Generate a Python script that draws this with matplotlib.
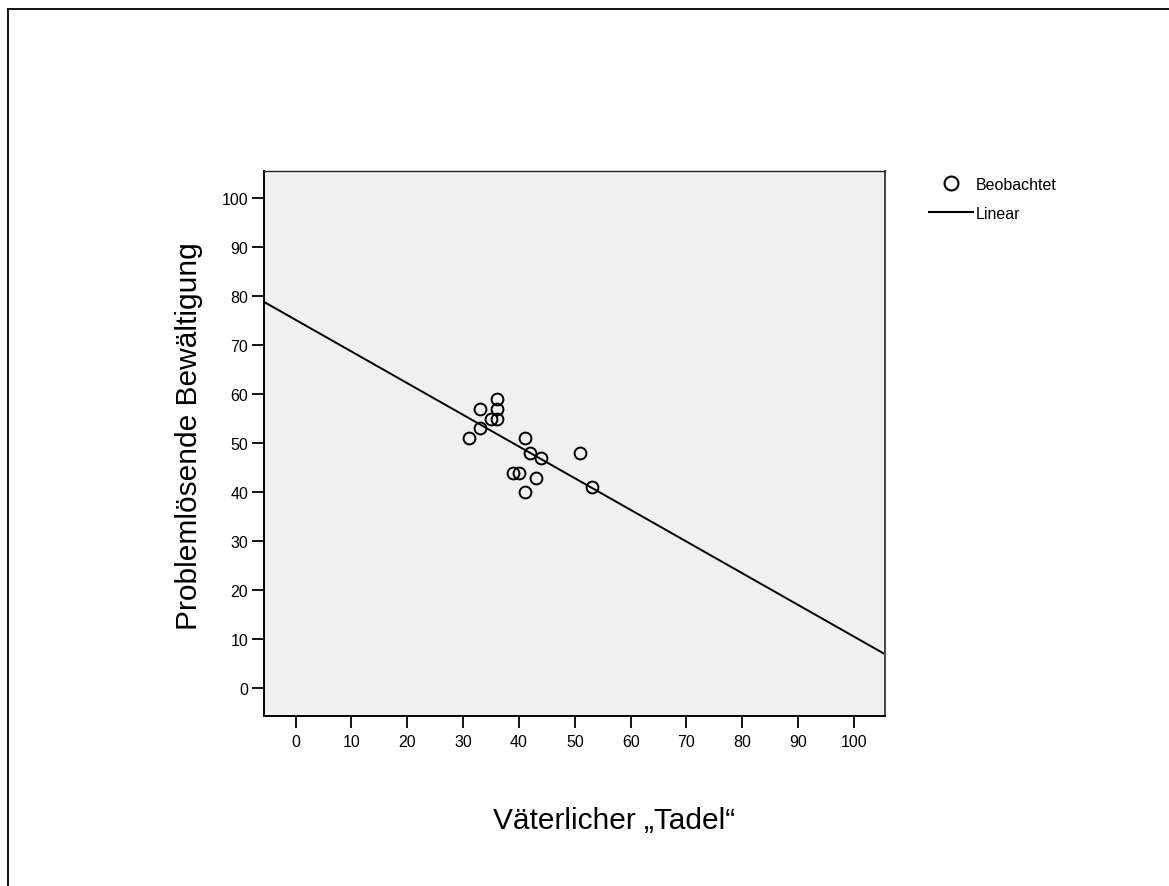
import numpy as np
import matplotlib
matplotlib.use("Agg")
import matplotlib.pyplot as plt
from matplotlib.lines import Line2D

plt.rcParams['font.family'] = ['Liberation Sans', 'DejaVu Sans']

tadel    = [36, 33, 36, 35, 36, 33, 31, 41, 42, 44, 51, 39, 40, 43, 41, 53]
bewaelt  = [59, 57, 57, 55, 55, 53, 51, 51, 48, 47, 48, 44, 44, 43, 40, 41]
ticks    = list(range(0, 101, 10))
xlabel   = "Väterlicher \u201eTadel\u201c"
ylabel   = "Problemlösende Bewältigung"
lim      = (-5.6, 105.6)

W, H = 1169, 887
fig = plt.figure(figsize=(W / 100, H / 100), dpi=100)

# axes box in pixels: left 264, right 885, top 172, bottom 717
ax = fig.add_axes([264.3 / W, 1 - 716.7 / H, 621 / W, 545 / H])
ax.set_facecolor('#f0f0f0')

ax.plot(tadel, bewaelt, 'o', ms=8.5, mfc='none', mec='black', mew=1.4, zorder=3)

# linear fit
k, d = np.polyfit(tadel, bewaelt, 1)
xs = np.array(lim)
ax.plot(xs, k * xs + d, '-', color='black', lw=1.4, zorder=2)

ax.set_xlim(lim)
ax.set_ylim(lim)
ax.set_xticks(ticks)
ax.set_yticks(ticks)
ax.tick_params(direction='out', length=8.5, width=1.3, labelsize=11.5, pad=3, colors='black')
ax.tick_params(axis='x', pad=5)
for s in ['left', 'bottom']:
    ax.spines[s].set_linewidth(1.4)
    ax.spines[s].set_color('black')
ax.spines['top'].set_linewidth(1.0)
ax.spines['top'].set_color('#222222')
ax.spines['right'].set_linewidth(1.4)
ax.spines['right'].set_color('#444444')

# axis titles placed freely, like the original
fig.text(614 / W, 1 - 821 / H, xlabel, fontsize=21.5, ha='center', va='center')
fig.text(189 / W, 1 - 436 / H, ylabel, fontsize=21.5, ha='center', va='center', rotation=90)

# legend
handles = [Line2D([], [], ls='none', marker='o', ms=10, mfc='none', mec='black', mew=1.5),
           Line2D([], [], ls='-', color='black', lw=1.5)]
fig.legend(handles, ['Beobachtet', 'Linear'], loc='upper left',
           bbox_to_anchor=(929 / W, 1 - 178 / H), frameon=False, fontsize=11.5,
           handlelength=2.75, handletextpad=0.15, labelspacing=0.85, borderpad=0,
           borderaxespad=0)

# outer frame (only top and left visible in the original)
fig.add_artist(Line2D([7.5 / W, 1], [1 - 10 / H, 1 - 10 / H], transform=fig.transFigure,
                      color='black', lw=1.3))
fig.add_artist(Line2D([7.5 / W, 7.5 / W], [1 - 10 / H, 0], transform=fig.transFigure,
                      color='black', lw=1.3))

fig.savefig('out.png', dpi=100)
